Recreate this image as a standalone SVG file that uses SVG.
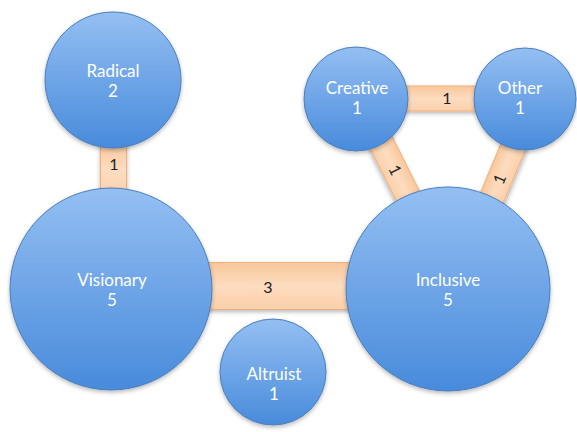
<svg xmlns="http://www.w3.org/2000/svg" width="577" height="432" viewBox="0 0 577 432">
  <defs>
    <linearGradient id="nodeFill" x1="0" y1="0" x2="0" y2="1">
      <stop offset="0" stop-color="#94bff2"/>
      <stop offset="0.5" stop-color="#6ea5e7"/>
      <stop offset="1" stop-color="#488bdb"/>
    </linearGradient>
    <linearGradient id="barFill" x1="0" y1="0" x2="0" y2="1">
      <stop offset="0" stop-color="#f9c79a"/>
      <stop offset="0.5" stop-color="#fddcc0"/>
      <stop offset="1" stop-color="#fbd0aa"/>
    </linearGradient>
    <filter id="shadow" x="-20%" y="-20%" width="140%" height="150%">
      <feDropShadow dx="0" dy="2" stdDeviation="2" flood-color="#000" flood-opacity="0.28"/>
    </filter>
  </defs>
  <style>
    .node circle { fill: url(#nodeFill); stroke: #4a7ebb; stroke-width: 1; filter: url(#shadow); }
    .node text { fill: #ffffff; font-family: Lato, "Open Sans", "DejaVu Sans", sans-serif; font-size: 17px; text-anchor: middle; }
    .bar rect { fill: url(#barFill); stroke: #f0b07c; stroke-width: 1; filter: url(#shadow); }
    .bar text { fill: #222222; font-family: Lato, "Open Sans", "DejaVu Sans", sans-serif; font-size: 16px; text-anchor: middle; }
  </style>

  <rect width="577" height="432" fill="#ffffff"/>

  <!-- connectors: bar thickness shows the shared count -->
  <g id="connectors">
    <g class="bar" id="radical-visionary">
      <rect x="100.5" y="140" width="26" height="60"/>
      <text x="114" y="170">1</text>
    </g>
    <g class="bar" id="visionary-inclusive">
      <rect x="200" y="262.5" width="155" height="47"/>
      <text x="268" y="293">3</text>
    </g>
    <g class="bar" id="creative-other">
      <rect x="395" y="86" width="90" height="25"/>
      <text x="447" y="104">1</text>
    </g>
    <g class="bar" id="creative-inclusive" transform="translate(370 120) rotate(63.4)">
      <rect x="0" y="-12.5" width="106" height="25"/>
      <text x="56" y="5.5">1</text>
    </g>
    <g class="bar" id="other-inclusive" transform="translate(484.6 215) rotate(-67.3)">
      <rect x="0" y="-12.5" width="103" height="25"/>
      <text x="39" y="5.5">1</text>
    </g>
  </g>

  <!-- nodes -->
  <g class="node" id="radical">
    <circle cx="113" cy="80" r="68"/>
    <text x="113" y="77">Radical</text>
    <text x="113" y="97">2</text>
  </g>
  <g class="node" id="visionary">
    <circle cx="111" cy="289" r="101"/>
    <text x="112" y="286">Visionary</text>
    <text x="112" y="306">5</text>
  </g>
  <g class="node" id="inclusive">
    <circle cx="448" cy="289" r="102"/>
    <text x="448" y="286">Inclusive</text>
    <text x="448" y="306">5</text>
  </g>
  <g class="node" id="creative">
    <circle cx="356" cy="99" r="52"/>
    <text x="357" y="94">Creative</text>
    <text x="357" y="114">1</text>
  </g>
  <g class="node" id="other">
    <circle cx="525" cy="99" r="51"/>
    <text x="520" y="94">Other</text>
    <text x="520" y="114">1</text>
  </g>
  <g class="node" id="altruist">
    <circle cx="273" cy="372" r="53"/>
    <text x="274" y="380">Altruist</text>
    <text x="274" y="400">1</text>
  </g>
</svg>
